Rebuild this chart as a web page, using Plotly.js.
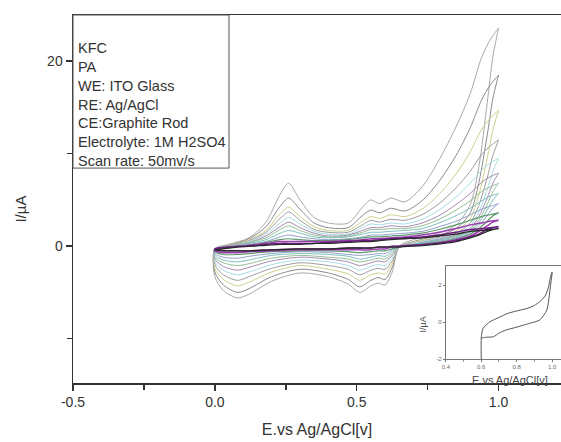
<!DOCTYPE html>
<html>
<head>
<meta charset="utf-8">
<script src="https://cdn.plot.ly/plotly-3.0.1.min.js"></script>
<style>html,body{margin:0;padding:0;background:#fff;}#chart{width:561px;height:442px;}</style>
</head>
<body>
<div id="chart"></div>
<script>
// Potential grids (V vs Ag/AgCl)
const forwardE = [0, 0.05, 0.12, 0.18, 0.23, 0.26, 0.30, 0.35, 0.40, 0.47, 0.52, 0.55, 0.58, 0.62, 0.67, 0.73, 0.79, 0.85, 0.90, 0.94, 0.97, 1.0];
const reverseE = [1.0, 0.98, 0.96, 0.93, 0.90, 0.85, 0.78, 0.70, 0.65, 0.625, 0.60, 0.575, 0.55, 0.51, 0.47, 0.40, 0.30, 0.20, 0.12, 0.08, 0.03, 0.0];

// Current (µA) per cycle, outermost first
const cycle1F = [-0.3, 0.2, 0.9, 2.6, 5.6, 6.8, 5.0, 3.1, 2.5, 2.5, 4.2, 5.0, 4.6, 5.2, 4.8, 6.4, 9.3, 12.9, 16.5, 20.4, 22.3, 23.6];
const cycle1R = [23.6, 20.5, 15.5, 8.5, 4.5, 2.3, 1.3, 0.7, 0.0, -2.8, -4.2, -4.0, -4.3, -5.0, -4.1, -3.3, -2.9, -3.8, -5.2, -5.6, -4.8, -3.3];
const cycle2F = [-0.3, 0.1, 0.8, 2.1, 4.3, 5.2, 4.0, 2.5, 2.0, 2.0, 3.3, 3.9, 3.6, 4.1, 3.8, 4.9, 7.0, 9.8, 12.8, 15.8, 17.4, 18.5];
const cycle2R = [18.5, 16.0, 12.0, 6.8, 3.6, 1.9, 1.1, 0.5, -0.1, -2.3, -3.6, -3.4, -3.7, -4.4, -3.6, -2.9, -2.5, -3.3, -4.6, -5.0, -4.2, -2.8];
const cycle3F = [-0.3, 0.1, 0.7, 1.7, 3.5, 4.2, 3.2, 2.1, 1.7, 1.7, 2.7, 3.2, 3.0, 3.4, 3.2, 4.0, 5.6, 7.8, 10.2, 12.6, 13.8, 14.7];
const cycle3R = [14.7, 12.6, 9.5, 5.5, 3.0, 1.6, 1.0, 0.4, -0.1, -1.9, -3.0, -2.9, -3.1, -3.7, -3.0, -2.5, -2.1, -2.8, -3.9, -4.3, -3.6, -2.4];
const cycle4F = [-0.3, 0.1, 0.6, 1.5, 3.0, 3.7, 2.8, 1.8, 1.5, 1.5, 2.3, 2.8, 2.6, 2.9, 2.8, 3.4, 4.6, 6.3, 8.1, 9.9, 10.8, 11.5];
const cycle4R = [11.5, 9.8, 7.4, 4.4, 2.5, 1.4, 0.9, 0.3, -0.1, -1.6, -2.5, -2.4, -2.6, -3.1, -2.5, -2.1, -1.8, -2.4, -3.3, -3.7, -3.1, -2.0];
const cycle5F = [-0.3, 0.0, 0.5, 1.3, 2.5, 3.1, 2.4, 1.6, 1.3, 1.3, 2.0, 2.4, 2.3, 2.5, 2.4, 2.9, 3.9, 5.3, 6.8, 8.2, 9.0, 9.5];
const cycle5R = [9.5, 8.1, 6.1, 3.7, 2.2, 1.3, 0.8, 0.3, -0.1, -1.3, -2.1, -2.0, -2.2, -2.6, -2.1, -1.7, -1.5, -2.0, -2.8, -3.1, -2.6, -1.7];
const cycle6F = [-0.3, 0.0, 0.4, 1.1, 2.1, 2.6, 2.0, 1.4, 1.1, 1.2, 1.7, 2.0, 2.0, 2.2, 2.1, 2.5, 3.3, 4.5, 5.7, 6.9, 7.5, 7.9];
const cycle6R = [7.9, 6.8, 5.2, 3.2, 1.9, 1.2, 0.7, 0.2, -0.1, -1.0, -1.7, -1.6, -1.8, -2.1, -1.7, -1.4, -1.2, -1.6, -2.3, -2.6, -2.2, -1.4];
const cycle7F = [-0.3, 0.0, 0.4, 0.9, 1.8, 2.2, 1.7, 1.2, 1.0, 1.1, 1.5, 1.8, 1.8, 1.9, 1.9, 2.2, 2.9, 3.9, 4.9, 5.9, 6.4, 6.8];
const cycle7R = [6.8, 5.9, 4.5, 2.8, 1.7, 1.1, 0.6, 0.2, -0.1, -0.8, -1.4, -1.3, -1.5, -1.7, -1.4, -1.2, -1.0, -1.3, -1.9, -2.1, -1.8, -1.2];
const cycle8F = [-0.3, -0.1, 0.3, 0.7, 1.4, 1.7, 1.4, 1.0, 0.9, 1.0, 1.3, 1.5, 1.5, 1.6, 1.7, 1.9, 2.5, 3.3, 4.1, 4.9, 5.4, 5.7];
const cycle8R = [5.7, 5.0, 3.9, 2.5, 1.6, 1.0, 0.6, 0.2, -0.1, -0.6, -1.1, -1.0, -1.2, -1.4, -1.1, -0.9, -0.8, -1.0, -1.5, -1.7, -1.5, -1.0];
const cycle9F = [-0.3, -0.1, 0.2, 0.5, 1.0, 1.2, 1.0, 0.8, 0.7, 0.8, 1.0, 1.2, 1.2, 1.3, 1.4, 1.6, 2.1, 2.7, 3.4, 4.0, 4.3, 4.6];
const cycle9R = [4.6, 4.1, 3.3, 2.2, 1.5, 0.9, 0.5, 0.1, -0.1, -0.4, -0.8, -0.8, -0.9, -1.0, -0.9, -0.7, -0.6, -0.8, -1.1, -1.3, -1.2, -0.8];
const cycle10F = [-0.3, -0.1, 0.1, 0.4, 0.7, 0.8, 0.7, 0.6, 0.6, 0.7, 0.9, 1.0, 1.0, 1.1, 1.2, 1.4, 1.8, 2.3, 2.8, 3.2, 3.4, 3.6];
const cycle10R = [3.6, 3.3, 2.7, 1.9, 1.3, 0.8, 0.4, 0.1, -0.1, -0.3, -0.5, -0.5, -0.6, -0.7, -0.6, -0.5, -0.5, -0.6, -0.8, -0.9, -0.9, -0.6];
const cycle11F = [-0.3, -0.1, 0.1, 0.3, 0.5, 0.5, 0.5, 0.5, 0.5, 0.6, 0.7, 0.8, 0.8, 0.9, 1.0, 1.2, 1.5, 1.9, 2.3, 2.5, 2.7, 2.8];
const cycle11R = [2.8, 2.6, 2.2, 1.6, 1.1, 0.7, 0.3, 0.1, 0.0, -0.1, -0.3, -0.3, -0.4, -0.4, -0.4, -0.4, -0.4, -0.5, -0.6, -0.7, -0.7, -0.5];
const cycle12F = [-0.3, -0.1, 0.0, 0.2, 0.3, 0.3, 0.3, 0.3, 0.4, 0.5, 0.6, 0.6, 0.7, 0.8, 0.9, 1.0, 1.2, 1.5, 1.8, 1.9, 2.0, 2.1];
const cycle12R = [2.1, 2.0, 1.8, 1.3, 1.0, 0.6, 0.3, 0.1, 0.0, 0.0, -0.1, -0.1, -0.2, -0.2, -0.2, -0.3, -0.3, -0.4, -0.5, -0.5, -0.5, -0.4];
const cycle13F = [-0.4, -0.2, 0.0, 0.1, 0.2, 0.2, 0.2, 0.3, 0.3, 0.4, 0.5, 0.5, 0.6, 0.7, 0.8, 0.9, 1.1, 1.3, 1.6, 1.7, 1.8, 1.9];
const cycle13R = [1.9, 1.8, 1.6, 1.2, 0.9, 0.5, 0.2, 0.0, -0.1, -0.1, -0.1, -0.1, -0.2, -0.2, -0.2, -0.3, -0.3, -0.4, -0.5, -0.5, -0.5, -0.4];

const cycleColors = ['#a9a9a9', '#8a8a8a', '#cfcf8e', '#9c9c9c', '#a9dbe6', '#a68ab0', '#93bf93', '#7fbfbf', '#8ea2c8', '#5f9a6c', '#9b3fae', '#6e1d85', '#2a2a2a'];
const cycleWidths = [1, 1, 1, 1, 1, 1, 1, 1, 1, 1.2, 1.5, 1.5, 1.3];
const cycles = [
  [cycle1F, cycle1R], [cycle2F, cycle2R], [cycle3F, cycle3R], [cycle4F, cycle4R],
  [cycle5F, cycle5R], [cycle6F, cycle6R], [cycle7F, cycle7R], [cycle8F, cycle8R],
  [cycle9F, cycle9R], [cycle10F, cycle10R], [cycle11F, cycle11R], [cycle12F, cycle12R],
  [cycle13F, cycle13R]
];

// Tick labels
const mainXTicks = [-0.5, 0, 0.5, 1.0];
const mainXLabels = ['-0.5', '0.0', '0.5', '1.0'];
const mainYTicks = [0, 20];
const mainYLabels = ['0', '20'];
const insetXTicks = [0.4, 0.6, 0.8, 1.0];
const insetXLabels = ['0.4', '0.6', '0.8', '1.0'];
const insetYTicks = [-2, 0, 2];
const insetYLabels = ['-2', '0', '2'];

// Inset (single CV)
const insetE = [0.60, 0.60, 0.61, 0.65, 0.70, 0.75, 0.80, 0.86, 0.90, 0.93, 0.96, 0.98, 0.99, 1.0, 0.99, 0.97, 0.93, 0.88, 0.84, 0.79, 0.74, 0.70, 0.67, 0.63, 0.61, 0.60];
const insetI = [-2.0, -0.85, -0.34, 0.02, 0.25, 0.47, 0.60, 0.74, 0.90, 1.10, 1.40, 1.90, 2.40, 2.70, 1.90, 0.65, 0.11, -0.05, -0.16, -0.30, -0.43, -0.60, -0.79, -0.82, -0.85, -0.86];

const infoLines = ['KFC', 'PA', 'WE: ITO Glass', 'RE: Ag/AgCl', 'CE:Graphite Rod', 'Electrolyte: 1M H2SO4', 'Scan rate: 50mv/s'];

const traces = cycles.map((c, i) => ({
  type: 'scatter', mode: 'lines',
  x: forwardE.concat(reverseE, [forwardE[0]]),
  y: c[0].concat(c[1], [c[0][0]]),
  line: {color: cycleColors[i], width: cycleWidths[i], shape: 'spline', smoothing: 0.8},
  xaxis: 'x', yaxis: 'y', hoverinfo: 'skip'
}));
traces.push({
  type: 'scatter', mode: 'lines', x: insetE, y: insetI,
  line: {color: '#555', width: 1, shape: 'spline', smoothing: 0.6},
  xaxis: 'x2', yaxis: 'y2', hoverinfo: 'skip'
});

const font = 'Liberation Sans, Arial, sans-serif';
const layout = {
  width: 561, height: 442,
  margin: {l: 73, r: 0, t: 15, b: 59},
  paper_bgcolor: '#fff', plot_bgcolor: '#fff',
  showlegend: false,
  font: {family: font, color: '#333'},
  xaxis: {
    domain: [0, 1], range: [-0.5, 1.22], tickmode: 'array', tickvals: mainXTicks, ticktext: mainXLabels,
    showgrid: false, zeroline: false, showline: true, mirror: true,
    linecolor: '#333', linewidth: 1.5, ticks: 'outside', ticklen: 6, tickwidth: 1.5, tickcolor: '#333',
    minor: {tickmode: 'linear', tick0: -0.25, dtick: 0.5, ticks: 'outside', ticklen: 5, tickwidth: 1.5, tickcolor: '#333'},
    tickfont: {size: 14, color: '#333'},
    title: {text: 'E.vs Ag/AgCl[v]', font: {size: 16, color: '#333'}, standoff: 14}
  },
  yaxis: {
    domain: [0, 1], range: [-14.8, 25], tickmode: 'array', tickvals: mainYTicks, ticktext: mainYLabels,
    showgrid: false, zeroline: false, showline: true, mirror: false,
    linecolor: '#333', linewidth: 1.5, ticks: 'outside', ticklen: 6, tickwidth: 1.5, tickcolor: '#333',
    minor: {tickmode: 'linear', tick0: -10, dtick: 20, ticks: 'outside', ticklen: 5, tickwidth: 1.5, tickcolor: '#333'},
    tickfont: {size: 14, color: '#333'}
  },
  xaxis2: {
    domain: [0.764, 1], anchor: 'y2', range: [0.4, 1.05], tickmode: 'array', tickvals: insetXTicks, ticktext: insetXLabels,
    showgrid: false, zeroline: false, showline: true, mirror: true,
    linecolor: '#777', linewidth: 1, ticks: 'outside', ticklen: 2, tickcolor: '#777',
    minor: {tickmode: 'linear', tick0: 0.5, dtick: 0.2, ticks: 'outside', ticklen: 2, tickcolor: '#999'},
    tickfont: {size: 6, color: '#666'}
  },
  yaxis2: {
    domain: [0.065, 0.318], anchor: 'x2', range: [-2, 3.03], tickmode: 'array', tickvals: insetYTicks, ticktext: insetYLabels,
    showgrid: false, zeroline: false, showline: true, mirror: false,
    linecolor: '#777', linewidth: 1, ticks: 'outside', ticklen: 2, tickcolor: '#777',
    tickfont: {size: 6, color: '#666'}
  },
  shapes: [{
    type: 'rect', xref: 'paper', yref: 'paper', x0: 0, x1: 0.3197, y0: 0.584, y1: 1,
    line: {color: '#555', width: 1}, fillcolor: 'rgba(0,0,0,0)'
  }],
  annotations: [
    {xref: 'paper', yref: 'paper', x: 0.006, y: 0.938, xanchor: 'left', yanchor: 'top', align: 'left',
     showarrow: false, text: infoLines.join('<br>'), font: {size: 14.5, color: '#333', family: font}},
    {xref: 'paper', yref: 'paper', x: -0.108, y: 0.472, xanchor: 'center', yanchor: 'middle', textangle: -90,
     showarrow: false, text: 'I/µA', font: {size: 15, color: '#333', family: font}},
    {xref: 'paper', yref: 'paper', x: 0.718, y: 0.16, xanchor: 'center', yanchor: 'middle', textangle: -90,
     showarrow: false, text: 'I/µA', font: {size: 9, color: '#555', family: font}},
    {xref: 'paper', yref: 'paper', x: 0.895, y: 0.008, xanchor: 'center', yanchor: 'middle',
     showarrow: false, text: 'E.vs Ag/AgCl[v]', font: {size: 11, color: '#444', family: font}}
  ]
};

Plotly.newPlot('chart', traces, layout, {staticPlot: true, displayModeBar: false});
</script>
</body>
</html>
